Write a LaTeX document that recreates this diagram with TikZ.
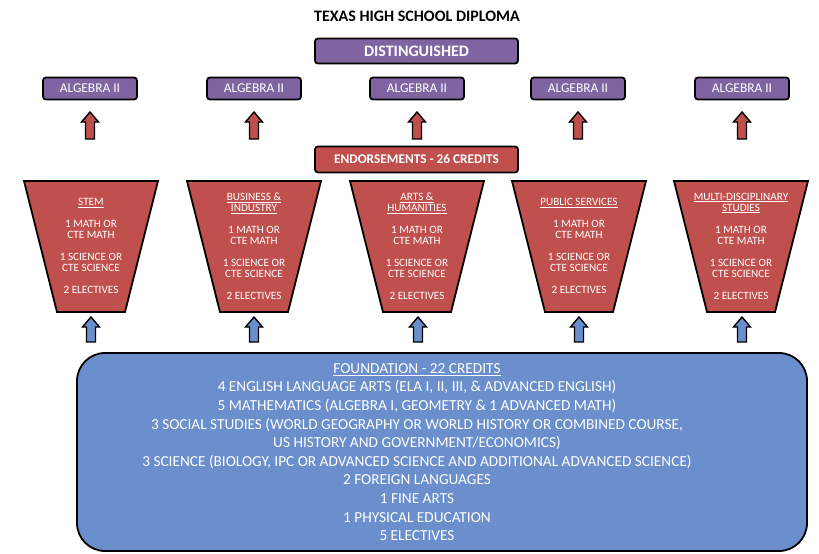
\documentclass[tikz,border=0pt]{standalone}
\usepackage{fontspec}
\setmainfont{Carlito}
\definecolor{purp}{HTML}{8064A2}
\definecolor{redb}{HTML}{C0504D}
\definecolor{blueb}{HTML}{6A8FCC}
\newcommand\blockup[4]{%
  \draw[arrowshape, fill=#4] (#1-4.5,#2) -- (#1-4.5,#3+10) -- (#1-8.5,#3+10) -- (#1,#3) -- (#1+8.5,#3+10) -- (#1+4.5,#3+10) -- (#1+4.5,#2) -- cycle;}
\newcommand\trapz[2]{%
  \draw[trap] (#1-67,181) -- (#1+67,181) -- (#1+34,312) -- (#1-34,312) -- cycle;
  \node[traptext] (#2) at (#1,246)}
\begin{document}
\begin{tikzpicture}[x=1pt,y=-1pt,
  box/.style={draw=black, line width=1.8pt, rounded corners=3pt, text=white, inner sep=0pt},
  arrowshape/.style={draw=black, line width=1.4pt, line join=miter},
  trap/.style={draw=black, line width=1.8pt, fill=redb, line join=miter},
  traptext/.style={text=white, align=center, inner sep=0pt, font=\fontsize{11.2}{11}\selectfont}]
\useasboundingbox (0,0) rectangle (819,554);

\node (title) at (417,16) {\fontsize{16}{18}\selectfont\bfseries TEXAS HIGH SCHOOL DIPLOMA};
\node[box, fill=purp, minimum width=203, minimum height=25, font=\fontsize{16}{18}\selectfont\bfseries] (dist) at (416.5,51) {DISTINGUISHED};

\foreach \x/\n in {90/a1, 254/a2, 417/a3, 578/a4, 742/a5}{
  \node[box, fill=purp, minimum width=94, minimum height=22, font=\fontsize{13.4}{14}\selectfont] (\n) at (\x,88.5) {ALGEBRA II};
  \blockup{\x}{139}{112}{redb}
}

\node[box, fill=redb, minimum width=203, minimum height=26, font=\fontsize{13.3}{15}\selectfont\bfseries] (endo) at (416.5,159.5) {ENDORSEMENTS - 26 CREDITS};

\trapz{91}{t1}{\underline{STEM}\\[11pt]1 MATH OR\\CTE MATH\\[11pt]1 SCIENCE OR\\CTE SCIENCE\\[11pt]2 ELECTIVES};
\trapz{254}{t2}{\underline{BUSINESS \&}\\\underline{INDUSTRY}\\[11pt]1 MATH OR\\CTE MATH\\[11pt]1 SCIENCE OR\\CTE SCIENCE\\[11pt]2 ELECTIVES};
\trapz{417}{t3}{\underline{ARTS \&}\\\underline{HUMANITIES}\\[11pt]1 MATH OR\\CTE MATH\\[11pt]1 SCIENCE OR\\CTE SCIENCE\\[11pt]2 ELECTIVES};
\trapz{579}{t4}{\underline{PUBLIC SERVICES}\\[11pt]1 MATH OR\\CTE MATH\\[11pt]1 SCIENCE OR\\CTE SCIENCE\\[11pt]2 ELECTIVES};
\trapz{741}{t5}{\underline{MULTI-DISCIPLINARY}\\\underline{STUDIES}\\[11pt]1 MATH OR\\CTE MATH\\[11pt]1 SCIENCE OR\\CTE SCIENCE\\[11pt]2 ELECTIVES};

\foreach \x in {91, 254, 418, 579, 742}{
  \blockup{\x}{342}{317}{blueb}
}

\node[draw=black, line width=1.8pt, fill=blueb, rounded corners=28pt, minimum width=730, minimum height=198, inner sep=0pt] (found) at (442,452) {};
\node[text=white, align=center, inner sep=0pt, font=\fontsize{15.3}{18.6}\selectfont] (foundtext) at (417,452)
{\underline{FOUNDATION - 22 CREDITS}\\
4 ENGLISH LANGUAGE ARTS (ELA I, II, III, \& ADVANCED ENGLISH)\\
5 MATHEMATICS (ALGEBRA I, GEOMETRY \& 1 ADVANCED MATH)\\
3 SOCIAL STUDIES (WORLD GEOGRAPHY OR WORLD HISTORY OR COMBINED COURSE,\\
US HISTORY AND GOVERNMENT/ECONOMICS)\\
3 SCIENCE (BIOLOGY, IPC OR ADVANCED SCIENCE AND ADDITIONAL ADVANCED SCIENCE)\\
2 FOREIGN LANGUAGES\\
1 FINE ARTS\\
1 PHYSICAL EDUCATION\\
5 ELECTIVES};
\end{tikzpicture}
\end{document}
